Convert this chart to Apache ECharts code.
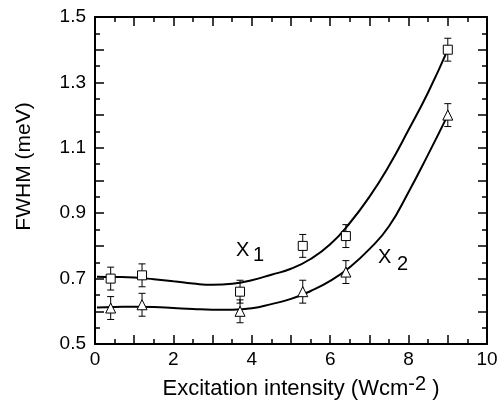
<!DOCTYPE html>
<html>
<head>
<meta charset="utf-8">
<script src="https://cdn.jsdelivr.net/npm/echarts@6/dist/echarts.min.js"></script>
<style>html,body{margin:0;padding:0;background:#fff;}#c{width:504px;height:409px;}</style>
</head>
<body>
<div id="c"></div>
<script>
// Measured points
const intensity = [0.4, 1.2, 3.7, 5.3, 6.4, 9.0];
const fwhmX1 = [0.70, 0.71, 0.66, 0.80, 0.83, 1.40];
const fwhmX2 = [0.61, 0.62, 0.60, 0.66, 0.72, 1.20];
const errX1 = [0.035, 0.035, 0.035, 0.035, 0.035, 0.035];
const errX2 = [0.035, 0.035, 0.035, 0.035, 0.035, 0.035];
// Fitted curves
const fitX = [0.05, 0.5, 1, 1.5, 2, 2.5, 3, 3.5, 4, 4.5, 5, 5.5, 6, 6.5, 7, 7.5, 8, 8.5, 9];
const fitX1 = [0.706, 0.705, 0.703, 0.698, 0.692, 0.685, 0.681, 0.684, 0.695, 0.712, 0.73, 0.76, 0.805, 0.87, 0.95, 1.045, 1.155, 1.27, 1.40];
const fitX2 = [0.612, 0.613, 0.614, 0.613, 0.61, 0.607, 0.605, 0.605, 0.609, 0.622, 0.638, 0.662, 0.693, 0.735, 0.79, 0.86, 0.965, 1.08, 1.20];
const xTicks = [0, 2, 4, 6, 8, 10];
const yTicks = [0.5, 0.7, 0.9, 1.1, 1.3, 1.5];

const FONT = 'Liberation Sans, Arial, Helvetica, sans-serif';
const chart = echarts.init(document.getElementById('c'), null, {renderer: 'canvas'});

function pairs(xs, ys) { return xs.map((x, i) => [x, ys[i]]); }
function errData(xs, ys, es) { return xs.map((x, i) => [x, ys[i], es[i]]); }

function errRender(params, api) {
  const x = api.value(0), y = api.value(1), e = api.value(2);
  const t = api.coord([x, y + e]), b = api.coord([x, y - e]);
  const w = 3.5;
  const st = {stroke: '#000', lineWidth: 1};
  return {type: 'group', children: [
    {type: 'line', shape: {x1: t[0], y1: t[1], x2: b[0], y2: b[1]}, style: st},
    {type: 'line', shape: {x1: t[0] - w, y1: t[1], x2: t[0] + w, y2: t[1]}, style: st},
    {type: 'line', shape: {x1: b[0] - w, y1: b[1], x2: b[0] + w, y2: b[1]}, style: st}
  ]};
}

const axisLine = {show: true, onZero: false, lineStyle: {color: '#000', width: 2}};
const xTick = {show: true, inside: true, length: 9, lineStyle: {color: '#000', width: 1.5}};
const xMinor = {show: true, splitNumber: 2, length: 5, lineStyle: {color: '#000', width: 1.5}};

const baseX = {
  type: 'value', min: 0, max: 10, interval: 1,
  axisLine: axisLine, axisTick: xTick, minorTick: xMinor,
  splitLine: {show: false}, minorSplitLine: {show: false}
};
const baseY = {
  type: 'value', min: 0.5, max: 1.5, interval: 0.1,
  axisLine: axisLine, axisTick: xTick, minorTick: xMinor,
  splitLine: {show: false}, minorSplitLine: {show: false}
};

const option = {
  backgroundColor: '#fff',
  animation: false,
  grid: {left: 95, right: 17, top: 17, bottom: 61, containLabel: false},
  xAxis: [
    Object.assign({}, baseX, {
      position: 'bottom',
      axisLabel: {
        margin: 6, color: '#000', fontSize: 19, fontFamily: FONT,
        formatter: v => xTicks.indexOf(Math.round(v)) >= 0 && Math.abs(v - Math.round(v)) < 1e-6 ? String(Math.round(v)) : ''
      },
      name: 'Excitation intensity (Wcm{sup|-2} )',
      nameLocation: 'middle', nameGap: 30,
      nameTextStyle: {
        color: '#000', fontSize: 22, fontFamily: FONT, lineHeight: 30, padding: [0, 0, 0, 20],
        rich: {sup: {fontSize: 20, fontFamily: FONT, color: '#000', lineHeight: 20, verticalAlign: 'top'}}
      }
    }),
    Object.assign({}, baseX, {position: 'top', axisLabel: {show: false}})
  ],
  yAxis: [
    Object.assign({}, baseY, {
      position: 'left',
      axisLabel: {
        margin: 9, color: '#000', fontSize: 19, fontFamily: FONT,
        formatter: v => {
          const k = Math.round(v * 10) / 10;
          return yTicks.some(t => Math.abs(t - k) < 1e-6) ? k.toFixed(1) : '';
        }
      },
      name: 'FWHM (meV)', nameLocation: 'middle', nameGap: 60, nameRotate: 90,
      nameTextStyle: {color: '#000', fontSize: 21, fontFamily: FONT, padding: [0, 0, 0, 28]}
    }),
    Object.assign({}, baseY, {position: 'right', axisLabel: {show: false}})
  ],
  series: [
    {type: 'line', name: 'fit X1', data: pairs(fitX, fitX1), smooth: true, symbol: 'none',
     lineStyle: {color: '#000', width: 2}, z: 2},
    {type: 'line', name: 'fit X2', data: pairs(fitX, fitX2), smooth: true, symbol: 'none',
     lineStyle: {color: '#000', width: 2}, z: 2},
    {type: 'custom', name: 'err X1', renderItem: errRender, data: errData(intensity, fwhmX1, errX1), z: 3},
    {type: 'custom', name: 'err X2', renderItem: errRender, data: errData(intensity, fwhmX2, errX2), z: 3},
    {type: 'scatter', name: 'X1', data: pairs(intensity, fwhmX1), symbol: 'rect', symbolSize: [9, 9],
     itemStyle: {color: '#fff', borderColor: '#000', borderWidth: 1, opacity: 1}, z: 4},
    {type: 'scatter', name: 'X2', data: pairs(intensity, fwhmX2), symbol: 'triangle', symbolSize: [10, 10],
     itemStyle: {color: '#fff', borderColor: '#000', borderWidth: 1, opacity: 1}, z: 4}
  ],
  graphic: [
    {type: 'text', left: 236, top: 240, style: {text: 'X', font: '20px ' + FONT, fill: '#000'}},
    {type: 'text', left: 253, top: 245, style: {text: '1', font: '20px ' + FONT, fill: '#000'}},
    {type: 'text', left: 378, top: 247, style: {text: 'X', font: '20px ' + FONT, fill: '#000'}},
    {type: 'text', left: 397, top: 254, style: {text: '2', font: '20px ' + FONT, fill: '#000'}}
  ]
};
chart.setOption(option);
</script>
</body>
</html>
